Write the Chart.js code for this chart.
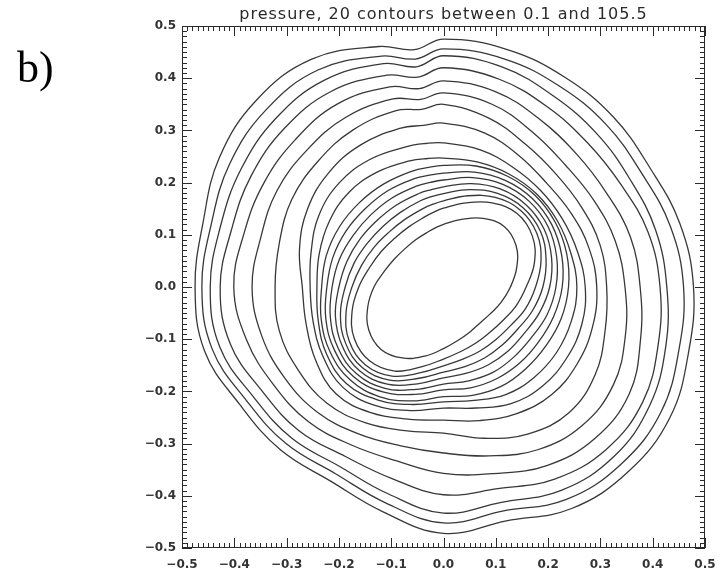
<!DOCTYPE html>
<html>
<head>
<meta charset="utf-8">
<style>
  html, body { margin: 0; padding: 0; background: #fff; }
  #wrap { width: 727px; height: 576px; }
</style>
<script src="https://cdn.jsdelivr.net/npm/chart.js@4.4.1/dist/chart.umd.min.js"></script>
</head>
<body>
<div id="wrap"><canvas id="chart" width="727" height="576"></canvas></div>
<script>
const TITLE = 'pressure, 20 contours between 0.1 and 105.5'
const PANEL_LABEL = 'b)'

const X_TICKS = [-0.5, -0.4, -0.3, -0.2, -0.1, 0.0, 0.1, 0.2, 0.3, 0.4, 0.5]
const Y_TICKS = [-0.5, -0.4, -0.3, -0.2, -0.1, 0.0, 0.1, 0.2, 0.3, 0.4, 0.5]

// contours read as radius from the centre at these angles (degrees)
const CENTER = [0.0, 0.0]
const ANGLES = [0, 15, 30, 45, 60, 75, 90, 97, 105, 120, 135, 150, 165, 180, 195, 210, 225, 240, 255, 270, 285, 300, 315, 330, 345]

// outermost first
const c1 = [0.478, 0.468, 0.456, 0.46, 0.464, 0.471, 0.475, 0.458, 0.477, 0.504, 0.506, 0.495, 0.476, 0.475, 0.473, 0.45, 0.441, 0.43, 0.446, 0.472, 0.464, 0.49, 0.50, 0.50, 0.485]
const c2 = [0.459, 0.449, 0.437, 0.44, 0.444, 0.452, 0.456, 0.44, 0.458, 0.48, 0.48, 0.472, 0.46, 0.462, 0.458, 0.435, 0.425, 0.413, 0.428, 0.452, 0.444, 0.47, 0.48, 0.48, 0.466]
const c3 = [0.427, 0.42, 0.412, 0.415, 0.422, 0.436, 0.443, 0.425, 0.443, 0.457, 0.455, 0.448, 0.442, 0.446, 0.443, 0.42, 0.41, 0.397, 0.41, 0.433, 0.427, 0.45, 0.46, 0.455, 0.44]
const c4 = [0.414, 0.405, 0.392, 0.39, 0.398, 0.412, 0.42, 0.405, 0.42, 0.432, 0.43, 0.425, 0.42, 0.427, 0.422, 0.40, 0.39, 0.375, 0.38, 0.398, 0.40, 0.425, 0.44, 0.44, 0.425]
const c5 = [0.376, 0.37, 0.36, 0.36, 0.37, 0.387, 0.395, 0.383, 0.397, 0.405, 0.40, 0.397, 0.395, 0.401, 0.39, 0.375, 0.365, 0.35, 0.345, 0.357, 0.37, 0.395, 0.41, 0.41, 0.39]
const c6 = [0.347, 0.34, 0.332, 0.33, 0.342, 0.362, 0.372, 0.362, 0.373, 0.375, 0.37, 0.368, 0.362, 0.366, 0.36, 0.35, 0.34, 0.325, 0.315, 0.318, 0.335, 0.36, 0.375, 0.375, 0.36]
const c7 = [0.312, 0.31, 0.305, 0.305, 0.315, 0.335, 0.35, 0.343, 0.35, 0.347, 0.34, 0.335, 0.325, 0.322, 0.325, 0.32, 0.315, 0.3, 0.285, 0.28, 0.3, 0.325, 0.34, 0.335, 0.32]
const c8 = [0.293, 0.288, 0.282, 0.28, 0.29, 0.305, 0.314, 0.312, 0.315, 0.315, 0.31, 0.30, 0.285, 0.27, 0.272, 0.282, 0.29, 0.278, 0.262, 0.255, 0.265, 0.28, 0.292, 0.295, 0.295]
const c9 = [0.271, 0.265, 0.262, 0.262, 0.265, 0.272, 0.276, 0.277, 0.278, 0.282, 0.282, 0.275, 0.262, 0.255, 0.258, 0.266, 0.272, 0.262, 0.245, 0.232, 0.24, 0.258, 0.268, 0.272, 0.274]
const c10 = [0.255, 0.252, 0.252, 0.252, 0.25, 0.248, 0.247, 0.248, 0.25, 0.254, 0.256, 0.252, 0.246, 0.242, 0.248, 0.258, 0.262, 0.25, 0.233, 0.22, 0.225, 0.238, 0.245, 0.25, 0.253]
const c11 = [0.239, 0.244, 0.247, 0.248, 0.245, 0.24, 0.233, 0.231, 0.23, 0.228, 0.228, 0.23, 0.232, 0.233, 0.242, 0.25, 0.252, 0.243, 0.226, 0.21, 0.215, 0.22, 0.222, 0.226, 0.233]
const c12 = [0.227, 0.234, 0.239, 0.24, 0.236, 0.228, 0.218, 0.216, 0.215, 0.213, 0.212, 0.215, 0.219, 0.223, 0.233, 0.241, 0.243, 0.232, 0.213, 0.197, 0.2, 0.203, 0.206, 0.21, 0.218]
const c13 = [0.215, 0.224, 0.231, 0.232, 0.227, 0.217, 0.205, 0.202, 0.2, 0.197, 0.196, 0.199, 0.206, 0.213, 0.224, 0.233, 0.235, 0.224, 0.203, 0.186, 0.186, 0.189, 0.19, 0.194, 0.205]
const c14 = [0.203, 0.214, 0.222, 0.223, 0.217, 0.205, 0.192, 0.188, 0.185, 0.181, 0.18, 0.184, 0.191, 0.2, 0.214, 0.224, 0.227, 0.215, 0.192, 0.174, 0.171, 0.172, 0.174, 0.178, 0.19]
const c15 = [0.19, 0.203, 0.214, 0.215, 0.207, 0.193, 0.179, 0.175, 0.171, 0.165, 0.164, 0.168, 0.177, 0.188, 0.204, 0.216, 0.219, 0.206, 0.181, 0.163, 0.158, 0.157, 0.158, 0.163, 0.176]
const c16 = [0.176, 0.193, 0.206, 0.208, 0.198, 0.181, 0.165, 0.16, 0.155, 0.149, 0.148, 0.153, 0.162, 0.175, 0.193, 0.208, 0.211, 0.197, 0.17, 0.151, 0.143, 0.141, 0.142, 0.148, 0.162]
const c17 = [0.158, 0.18, 0.196, 0.199, 0.186, 0.167, 0.151, 0.145, 0.139, 0.133, 0.132, 0.137, 0.146, 0.162, 0.181, 0.197, 0.2, 0.186, 0.158, 0.138, 0.128, 0.124, 0.124, 0.13, 0.143]
const c18 = [0.128, 0.145, 0.16, 0.164, 0.152, 0.134, 0.12, 0.115, 0.11, 0.105, 0.104, 0.108, 0.117, 0.133, 0.15, 0.165, 0.169, 0.157, 0.137, 0.118, 0.106, 0.1, 0.098, 0.103, 0.114]

const CONTOURS = [c1, c2, c3, c4, c5, c6, c7, c8, c9, c10, c11, c12, c13, c14, c15, c16, c17, c18]

const LINE = '#383838'
const INK = '#2a2a2a'

// closed loop: pad with one point on each side so tension stays smooth at the join
const toLoop = radii => {
  const pts = ANGLES.map((a, i) => ({
    x: CENTER[0] + radii[i] * Math.cos(a * Math.PI / 180),
    y: CENTER[1] + radii[i] * Math.sin(a * Math.PI / 180)
  }))
  const n = pts.length
  return [pts[n - 1], ...pts, pts[0], pts[1]]
}

const fmt = v => (v < -1e-9 ? '\u2212' : '') + Math.abs(v).toFixed(1)

const datasets = CONTOURS.map((r, i) => {
  const data = toLoop(r)
  const last = data.length - 1
  return {
    label: 'level ' + (i + 1),
    data,
    showLine: true,
    pointRadius: 0,
    borderWidth: 1.3,
    borderColor: LINE,
    tension: 0.4,
    segment: {
      borderColor: ctx => (ctx.p0DataIndex === 0 || ctx.p1DataIndex === last) ? 'rgba(0,0,0,0)' : LINE
    }
  }
})

const frame = {
  id: 'frame',
  afterDraw (chart) {
    const { ctx, chartArea: a, scales: { x, y } } = chart
    ctx.save()
    ctx.strokeStyle = INK
    ctx.lineWidth = 1
    ctx.strokeRect(a.left + 0.5, a.top + 0.5, a.right - a.left - 1, a.bottom - a.top - 1)
    ctx.beginPath()
    for (let i = 0; i <= 100; i++) {
      const v = -0.5 + i / 100
      const len = i % 10 === 0 ? 10 : 5
      const px = Math.round(x.getPixelForValue(v)) + 0.5
      ctx.moveTo(px, a.bottom); ctx.lineTo(px, a.bottom - len)
      ctx.moveTo(px, a.top); ctx.lineTo(px, a.top + len)
      const py = Math.round(y.getPixelForValue(v)) + 0.5
      ctx.moveTo(a.left, py); ctx.lineTo(a.left + len, py)
      ctx.moveTo(a.right, py); ctx.lineTo(a.right - len, py)
    }
    ctx.stroke()

    ctx.fillStyle = INK
    ctx.font = '16px "DejaVu Sans"'
    ctx.letterSpacing = '1px'
    ctx.textAlign = 'center'
    ctx.textBaseline = 'alphabetic'
    ctx.fillText(TITLE, (a.left + a.right) / 2, 19)

    ctx.letterSpacing = '0px'
    ctx.fillStyle = '#000'
    ctx.font = '44px "Liberation Serif"'
    ctx.textAlign = 'left'
    ctx.fillText(PANEL_LABEL, 17, 82)
    ctx.restore()
  }
}

const tickFont = { family: 'DejaVu Sans', size: 12, weight: 'bold' }

new Chart(document.getElementById('chart'), {
  type: 'scatter',
  data: { datasets },
  options: {
    responsive: false,
    animation: false,
    devicePixelRatio: 1,
    layout: { padding: { top: 26, right: 22, left: 0, bottom: 0 } },
    plugins: { legend: { display: false }, tooltip: { enabled: false } },
    scales: {
      x: {
        type: 'linear',
        min: -0.5,
        max: 0.5,
        afterBuildTicks: s => { s.ticks = X_TICKS.map(v => ({ value: v })) },
        afterFit: s => { s.height = 28 },
        grid: { display: false, drawTicks: false },
        border: { display: false },
        ticks: { padding: 10, font: tickFont, color: '#333', callback: fmt, autoSkip: false, maxRotation: 0 }
      },
      y: {
        type: 'linear',
        min: -0.5,
        max: 0.5,
        afterBuildTicks: s => { s.ticks = Y_TICKS.map(v => ({ value: v })) },
        afterFit: s => { s.width = 182 },
        grid: { display: false, drawTicks: false },
        border: { display: false },
        ticks: { padding: 6, font: tickFont, color: '#333', callback: fmt, autoSkip: false }
      }
    }
  },
  plugins: [frame]
})
</script>
</body>
</html>
